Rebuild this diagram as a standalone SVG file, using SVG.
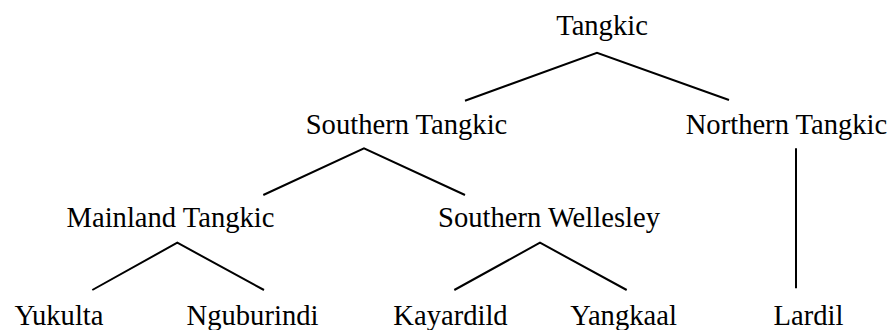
<svg xmlns="http://www.w3.org/2000/svg" width="895" height="330" viewBox="0 0 895 330">
<style>
.t{font-family:'Liberation Serif','Times New Roman',Times,'DejaVu Serif',serif;font-size:28.6px;fill:#000;text-anchor:middle}
.e{fill:none;stroke:#000;stroke-width:2;stroke-linejoin:miter}
</style>
<rect width="895" height="330" fill="#fff"/>
<g id="connectors">
<polyline class="e" points="465,100.7 597,52.7 729,100"/>
<polyline class="e" points="263.3,195 364,148.3 465,195"/>
<polyline class="e" points="92.3,290 177.3,242.7 264,290"/>
<polyline class="e" points="454.3,290 540,242.7 626.7,290"/>
<line class="e" x1="796" y1="148.3" x2="796" y2="288.3"/>
</g>
<g class="t" font-family="Liberation Serif, Times New Roman, serif">
<g id="tangkic"><text x="602" y="34.5">Tangkic</text></g>
<g id="southern-tangkic"><text x="406.5" y="134">Southern Tangkic</text></g>
<g id="northern-tangkic"><text x="786.5" y="134">Northern Tangkic</text></g>
<g id="mainland-tangkic"><text x="170.5" y="226.7">Mainland Tangkic</text></g>
<g id="southern-wellesley"><text x="549" y="226.7">Southern Wellesley</text></g>
<g id="yukulta"><text x="59" y="325">Yukulta</text></g>
<g id="nguburindi"><text x="252.5" y="325">Nguburindi</text></g>
<g id="kayardild"><text x="450.5" y="325">Kayardild</text></g>
<g id="yangkaal"><text x="623.5" y="325">Yangkaal</text></g>
<g id="lardil"><text x="808.5" y="325">Lardil</text></g>
</g>
</svg>
